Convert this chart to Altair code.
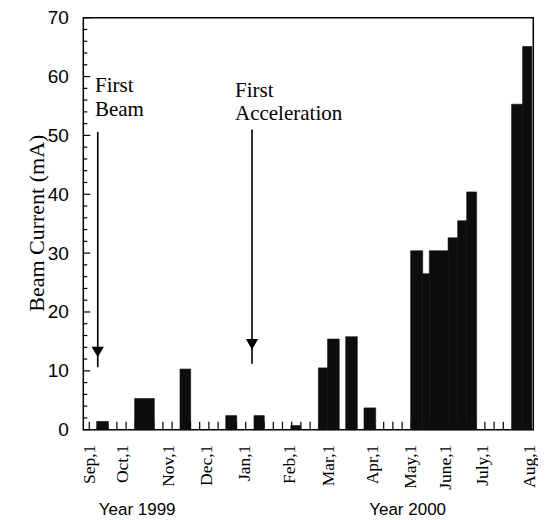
import altair as alt
import pandas as pd

# ---- data (x in weeks counted from Sep 1, 1999) ----
bar_start = [0.8, 4.93, 9.86, 14.83, 17.9, 21.9, 24.9, 25.9, 27.87, 29.86,
             34.93, 36.24, 36.96, 39.0, 40.04, 41.02, 45.9, 47.1]
bar_end = [2.07, 7.07, 11.02, 16.02, 19.02, 22.98, 25.9, 27.17, 29.13, 31.13,
           36.24, 36.96, 39.0, 40.04, 41.02, 42.1, 47.1, 48.1]
bar_value = [1.4, 5.3, 10.3, 2.4, 2.4, 0.7, 10.5, 15.4, 15.8, 3.7,
             30.4, 26.5, 30.4, 32.6, 35.5, 40.4, 55.3, 65.1]

month_names = ["Sep,1", "Oct,1", "Nov,1", "Dec,1", "Jan,1", "Feb,1",
               "Mar,1", "Apr,1", "May,1", "June,1", "July,1", "Aug,1"]
month_pos = [0.05, 3.7, 8.65, 12.75, 16.95, 21.85, 26.05, 30.85, 35.0, 38.75, 42.8, 47.95]

year_names = ["Year  1999", "Year  2000"]
year_pos = [5.2, 34.6]

week_ticks = list(range(0, 49))
y_major = [0, 10, 20, 30, 40, 50, 60, 70]
y_minor = [v for v in range(0, 71, 2) if v % 10 != 0]

note_text = ["First", "Beam", "First", "Acceleration"]
note_x = [0.62, 0.62, 15.84, 15.84]
note_y = [57.3, 53.3, 56.6, 52.6]

arrow_x = [0.92, 17.69]
arrow_top = [50.6, 51.0]
arrow_bottom = [10.6, 11.2]
arrow_head = [13.2, 14.5]

# ---- tables ----
bars_df = pd.DataFrame({"start": bar_start, "end": bar_end, "value": bar_value})
months_df = pd.DataFrame({"pos": month_pos, "name": month_names})
years_df = pd.DataFrame({"pos": year_pos, "name": year_names})
weeks_df = pd.DataFrame({"week": week_ticks})
major_df = pd.DataFrame({"v": y_major})
minor_df = pd.DataFrame({"v": y_minor})
notes_df = pd.DataFrame({"x": note_x, "y": note_y, "t": note_text})
arrows_df = pd.DataFrame({"x": arrow_x, "top": arrow_top, "bottom": arrow_bottom, "head": arrow_head})

W, H = 450, 412
xs = alt.Scale(domain=[-0.65, 48.26], nice=False, zero=False)
ys = alt.Scale(domain=[0, 70], nice=False, zero=False)
SERIF = "Liberation Serif"
SANS = "Liberation Sans"

y_axis = alt.Axis(values=y_major, ticks=False, domain=False, grid=False,
                  labelPadding=15, labelFont=SANS, labelFontSize=19,
                  labelColor="black", title="Beam Current (mA)",
                  titleFont=SERIF, titleFontSize=22, titleFontWeight="normal",
                  titleColor="black", titleX=-35, titleY=205,
                  titleAlign="center", titleAngle=270, titleBaseline="bottom")


def Y(field):
    return alt.Y(field, scale=ys, axis=y_axis, title="Beam Current (mA)")


week_rules = alt.Chart(weeks_df).mark_rule(color="black", strokeWidth=1.2).encode(
    x=alt.X("week:Q", scale=xs, axis=None),
    y=alt.value(H), y2=alt.value(H - 8))

major_rules = alt.Chart(major_df).mark_rule(color="black", strokeWidth=1.2).encode(
    y=Y("v:Q"), x=alt.value(0), x2=alt.value(7))

minor_rules = alt.Chart(minor_df).mark_rule(color="black", strokeWidth=1.2).encode(
    y=Y("v:Q"), x=alt.value(0), x2=alt.value(4))

bars = alt.Chart(bars_df).mark_rect(color="#0d0d0d", stroke="#0d0d0d", strokeWidth=0.6).encode(
    x=alt.X("start:Q", scale=xs, axis=None),
    x2="end:Q",
    y=Y("value:Q"),
    y2=alt.datum(0))

month_text = alt.Chart(months_df).mark_text(
    angle=270, align="right", baseline="middle", font=SERIF, fontSize=17.5,
    color="black").encode(
    x=alt.X("pos:Q", scale=xs, axis=None), y=alt.value(H + 15), text="name:N")

year_text = alt.Chart(years_df).mark_text(
    align="center", baseline="alphabetic", font=SANS, fontSize=17,
    color="black").encode(
    x=alt.X("pos:Q", scale=xs, axis=None), y=alt.value(497), text="name:N")

notes = alt.Chart(notes_df).mark_text(
    align="left", baseline="alphabetic", font=SERIF, fontSize=21,
    color="black").encode(
    x=alt.X("x:Q", scale=xs, axis=None),
    y=Y("y:Q"), text="t:N")

arrow_lines = alt.Chart(arrows_df).mark_rule(color="black", strokeWidth=1.6).encode(
    x=alt.X("x:Q", scale=xs, axis=None),
    y=Y("top:Q"), y2="bottom:Q")

arrow_heads = alt.Chart(arrows_df).mark_point(
    shape="triangle-down", filled=True, size=150, color="black", opacity=1).encode(
    x=alt.X("x:Q", scale=xs, axis=None),
    y=Y("head:Q"))

chart = alt.layer(
    week_rules, major_rules, minor_rules, bars, month_text, year_text,
    notes, arrow_lines, arrow_heads
).properties(
    width=W, height=H,
    autosize=alt.AutoSizeParams(type="none"),
    padding={"left": 75.3, "top": 9.7, "right": 5, "bottom": 96},
    background="white",
).configure_view(stroke="black", strokeWidth=1.5)

chart.save("out.html", embed_options={"renderer": "svg", "actions": False})
